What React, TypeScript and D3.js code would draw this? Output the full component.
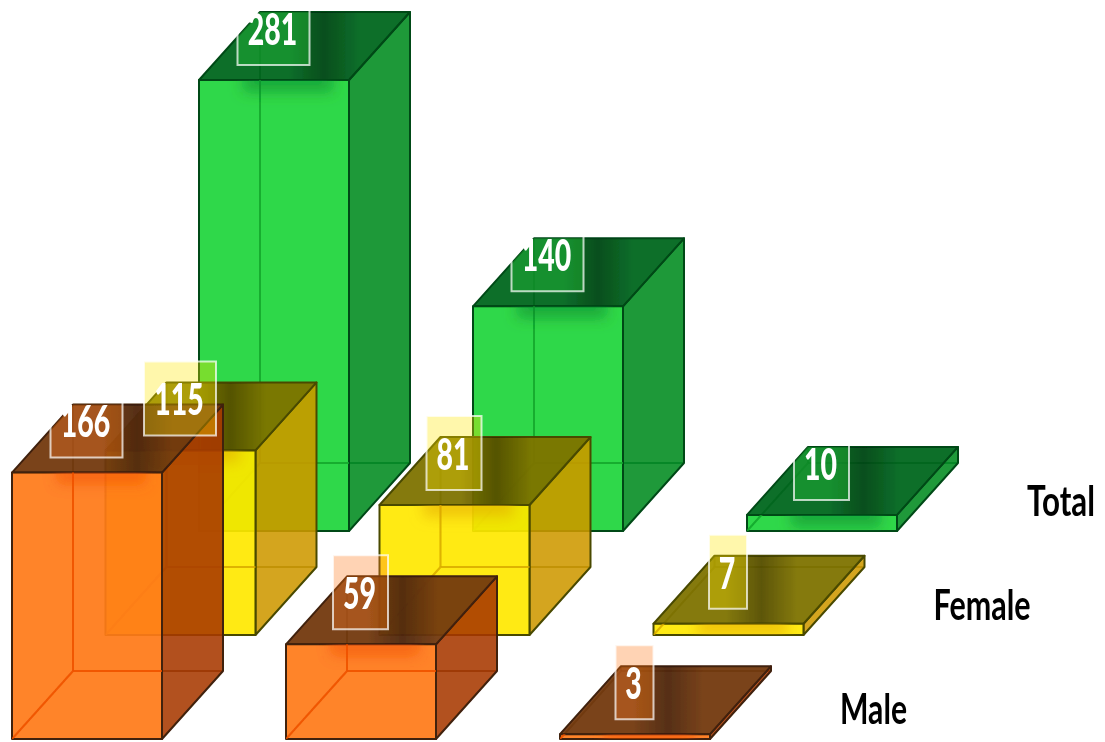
import React from "react";
import * as d3 from "d3";

const seriesNames = ["Total", "Female", "Male"];
const groups = ["A", "B", "C"];
const totalValues = [281, 140, 10];
const femaleValues = [115, 81, 7];
const maleValues = [166, 59, 3];
const valuesBySeries = [totalValues, femaleValues, maleValues];
const clippedLabels = [166, 281, 140, 10];

const palette: Record<string, any> = {
  Total: { front: "#21d53a", top: "#00671e", right: "#018b21", edge: "#064a18", inner: "#0fa52e", glow: "#0a7a2a" },
  Female: { front: "#ffe800", top: "#7e7300", right: "#ce9800", edge: "#4a4a00", inner: "#d8a800", glow: "#e0a000" },
  Male: { front: "#ff7a18", top: "#733910", right: "#a73800", edge: "#40200a", inner: "#f05000", glow: "#f04a00" },
};

const W = 1105, H = 742, boxW = 150, dx = 61, dy = -68;
const xCol = d3.scalePoint<string>().domain(groups).range([12, 560]);
const xSeries = d3.scalePoint<string>().domain(["Male", "Female", "Total"]).range([0, 187]);
const yBase = d3.scalePoint<string>().domain(["Male", "Female", "Total"]).range([739, 531]);
const h = d3.scaleLinear().domain([0, 281]).range([0, 451]);
const poly = d3.line<number[]>().curve(d3.curveLinearClosed);
const open = d3.line<number[]>();

type P = number[];
function Box({ s, g, v }: { s: string; g: string; v: number }) {
  const c = palette[s];
  const x = xCol(g)! + xSeries(s)!;
  const b = yBase(s)!;
  const t = b - h(v);
  const A: P = [x, b], B: P = [x + boxW, b], C: P = [x + boxW, t], D: P = [x, t];
  const o = (p: P): P => [p[0] + dx, p[1] + dy];
  const id = `${s}${g}`;
  const lw = String(v).length * 17 + 21;
  const cx = x + 74;
  const bandX = cx + lw / 2 + 15;
  const hiddenEdges = [open([A, o(A)]), open([o(A), o(B)]), open([o(A), o(D)])];
  return (
    <g>
      <clipPath id={`top${id}`}><path d={poly([D, C, o(C), o(D)])!} /></clipPath>
      <clipPath id={`front${id}`}><path d={poly([A, B, C, D])!} /></clipPath>
      {/* hidden faces */}
      <path d={poly([o(A), o(B), o(C), o(D)])!} fill={c.front} fillOpacity={0.06} />
      {hiddenEdges.map((d, i) => <path key={i} d={d!} fill="none" stroke={c.edge} strokeOpacity={0.8} strokeWidth={2} />)}
      {/* right */}
      <path d={poly([B, o(B), o(C), C])!} fill={c.right} fillOpacity={0.88} stroke={c.edge} strokeWidth={2} strokeLinejoin="round" />
      {/* top */}
      <path d={poly([D, C, o(C), o(D)])!} fill={c.top} fillOpacity={0.95} stroke={c.edge} strokeWidth={2} strokeLinejoin="round" />
      <g clipPath={`url(#top${id})`}>
        <rect x={bandX - 36} y={t + dy} width={72} height={-dy} fill="url(#band)" />
      </g>
      {/* front */}
      <path d={poly([A, B, C, D])!} fill={c.front} fillOpacity={0.92} stroke={c.edge} strokeWidth={2} strokeLinejoin="round" />
      <g clipPath={`url(#front${id})`}>
        {hiddenEdges.map((d, i) => <path key={i} d={d!} fill="none" stroke={c.inner} strokeOpacity={0.8} strokeWidth={2} />)}
        <rect x={cx - 30} y={t - 8} width={90} height={20} fill={c.glow} fillOpacity={0.5} filter="url(#soft)" />
      </g>
    </g>
  );
}

function Label({ s, g, v }: { s: string; g: string; v: number }) {
  const c = palette[s];
  const x = xCol(g)! + xSeries(s)!;
  const t = yBase(s)! - h(v);
  const w = String(v).length * 17 + 21;
  const cx = x + 74.5;
  const bottom = t - 15;
  const clipped = clippedLabels.includes(v);
  const height = clipped ? 55 : 74;
  const digits = String(v).length;
  const clipId = clipped ? `url(#top${s}${g})` : undefined;
  return (
    <g>
      <g clipPath={clipId}>
        <rect x={cx - w / 2} y={bottom - height} width={w} height={height} fill={c.front} fillOpacity={0.33} />
      </g>
      <path d={`M${cx - w / 2},${bottom - height + (clipped ? 12 : 0)}V${bottom}H${cx + w / 2}V${bottom - height}${clipped ? "" : `H${cx - w / 2}`}`}
        fill="none" stroke="#ffffff" strokeOpacity={0.72} strokeWidth={2} />
      <text x={cx - 1} y={bottom - 36} dy="0.36em" textAnchor="middle" fontFamily="Lato, 'Open Sans', sans-serif"
        fontWeight={900} fontSize={44} fill="#ffffff" textLength={digits * 16.5} lengthAdjust="spacingAndGlyphs">{v}</text>
    </g>
  );
}

export default function App() {
  const lastCol = groups[groups.length - 1];
  const widths: Record<string, number> = { Total: 68, Female: 97, Male: 67 };
  return (
    <svg width={W} height={H} viewBox={`0 0 ${W} ${H}`} style={{ position: "fixed", left: 0, top: 0, display: "block", background: "#fff" }}>
      <defs>
        <linearGradient id="band" x1="0" x2="1" y1="0" y2="0">
          <stop offset="0" stopColor="#000" stopOpacity={0} />
          <stop offset="0.5" stopColor="#000" stopOpacity={0.3} />
          <stop offset="1" stopColor="#000" stopOpacity={0} />
        </linearGradient>
        <filter id="soft" x="-30%" y="-80%" width="160%" height="260%"><feGaussianBlur stdDeviation="7" /></filter>
        <filter id="tiny"><feGaussianBlur stdDeviation="0.45" /></filter>
      </defs>
      <g filter="url(#tiny)">
        {seriesNames.map((s, i) => groups.map((g, j) => <Box key={s + g} s={s} g={g} v={valuesBySeries[i][j]} />))}
        {seriesNames.map((s, i) => groups.map((g, j) => <Label key={s + g} s={s} g={g} v={valuesBySeries[i][j]} />))}
        {seriesNames.map((s) => (
          <text key={s} transform={`translate(${xCol(lastCol)! + xSeries(s)! + 280},${yBase(s)! - 15}) scale(1,1.38)`}
            fontFamily="Lato, 'Open Sans', sans-serif" fontWeight={700} fontSize={30} fill="#000"
            textLength={widths[s]} lengthAdjust="spacingAndGlyphs">{s}</text>
        ))}
      </g>
    </svg>
  );
}
